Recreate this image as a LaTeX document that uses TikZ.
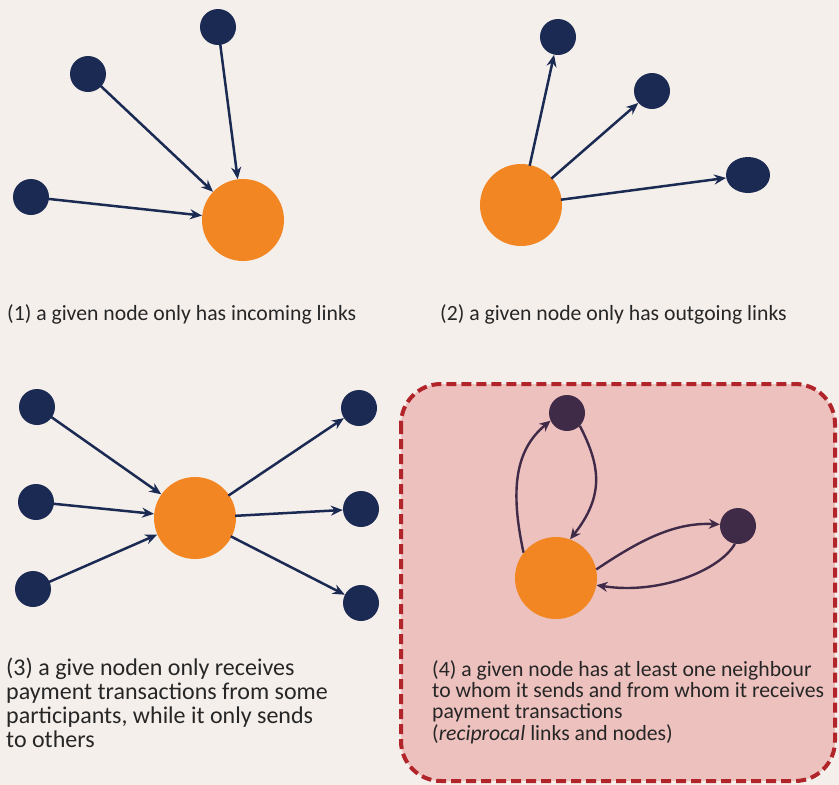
\documentclass[tikz,border=0pt]{standalone}
\usepackage{fontspec}
\setmainfont{Carlito}
\usetikzlibrary{arrows.meta,shapes.geometric}
\definecolor{bg}{HTML}{F5EFEB}
\definecolor{navy}{HTML}{1A2A53}
\definecolor{orng}{HTML}{F28623}
\definecolor{pinkfill}{HTML}{EDC1BE}
\definecolor{dashred}{HTML}{B0242A}
\definecolor{plum}{HTML}{3F2A48}
\definecolor{txt}{HTML}{262626}
\tikzset{
  small/.style={circle,fill=navy,inner sep=0pt,minimum size=36pt},
  smallp/.style={circle,fill=plum,inner sep=0pt,minimum size=36pt},
  big/.style={circle,fill=orng,inner sep=0pt,minimum size=82pt},
  link/.style={draw=navy,line width=2.5pt,-{Stealth[length=12pt,width=10pt]},shorten <=-1pt},
  rlink/.style={draw=plum,line width=2.4pt,-{Stealth[length=11pt,width=10pt]}},
  lab/.style={anchor=base west,text=txt,align=left,inner sep=0pt}
}
\begin{document}
\begin{tikzpicture}[x=1pt,y=-1pt]
\fill[bg] (0,0) rectangle (839,785);
\useasboundingbox (0,0) rectangle (839,785);
% panel 1
\node[big] (o1) at (243,220) {};
\node[small] (a1) at (31,197) {};
\node[small] (b1) at (88,74) {};
\node[small] (c1) at (218,27) {};
\draw[link] (a1) -- (o1);
\draw[link] (b1) -- (o1);
\draw[link] (c1) -- (o1);
\node[lab,font=\fontsize{21.7}{26}\selectfont] (t1) at (7,320) {(1) a given node only has incoming links};
% panel 2
\node[big] (o2) at (521,205) {};
\node[small] (a2) at (558,37) {};
\node[small] (b2) at (652,91) {};
\node[ellipse,fill=navy,inner sep=0pt,minimum width=44pt,minimum height=36pt] (c2) at (748,175) {};
\draw[link] (o2) -- (a2);
\draw[link] (o2) -- (b2);
\draw[link] (o2) -- (c2);
\node[lab,font=\fontsize{21.7}{26}\selectfont] (t2) at (440,320) {(2) a given node only has outgoing links};
% panel 3
\node[big] (o3) at (195,518) {};
\node[small] (l1) at (37,407) {};
\node[small] (l2) at (36,502) {};
\node[small] (l3) at (33,589) {};
\node[small] (r1) at (359,408) {};
\node[small] (r2) at (361,509) {};
\node[small] (r3) at (361,603) {};
\draw[link] (l1) -- (o3);
\draw[link] (l2) -- (o3);
\draw[link] (l3) -- (o3);
\draw[link] (o3) -- (r1);
\draw[link] (o3) -- (r2);
\draw[link] (o3) -- (r3);
\node[lab,font=\fontsize{24}{24}\selectfont] (t3) at (6,747) {(3) a give noden only receives\\payment transactions from some\\participants, while it only sends\\to others};
% panel 4
\draw[fill=pinkfill,draw=dashred,line width=4pt,dash pattern=on 10pt off 5pt,rounded corners=40pt] (401,384) rectangle (835,781);
\node[big] (o4) at (556,578) {};
\node[smallp] (a4) at (567,413) {};
\node[smallp] (b4) at (738,526) {};
\draw[rlink] (o4.142) .. controls (510,490) and (515,450) .. (a4.205);
\draw[rlink] (a4.-45) .. controls (600,465) and (605,495) .. (o4.70);
\draw[rlink] (o4.12) .. controls (640,540) and (675,522) .. (b4.175);
\draw[rlink] (b4.-100) .. controls (720,570) and (660,595) .. (o4.-10);
\node[lab,font=\fontsize{21.7}{21.3}\selectfont] (t4) at (432,740) {(4) a given node has at least one neighbour\\to whom it sends and from whom it receives\\payment transactions\\(\textit{reciprocal} links and nodes)};
\end{tikzpicture}
\end{document}
